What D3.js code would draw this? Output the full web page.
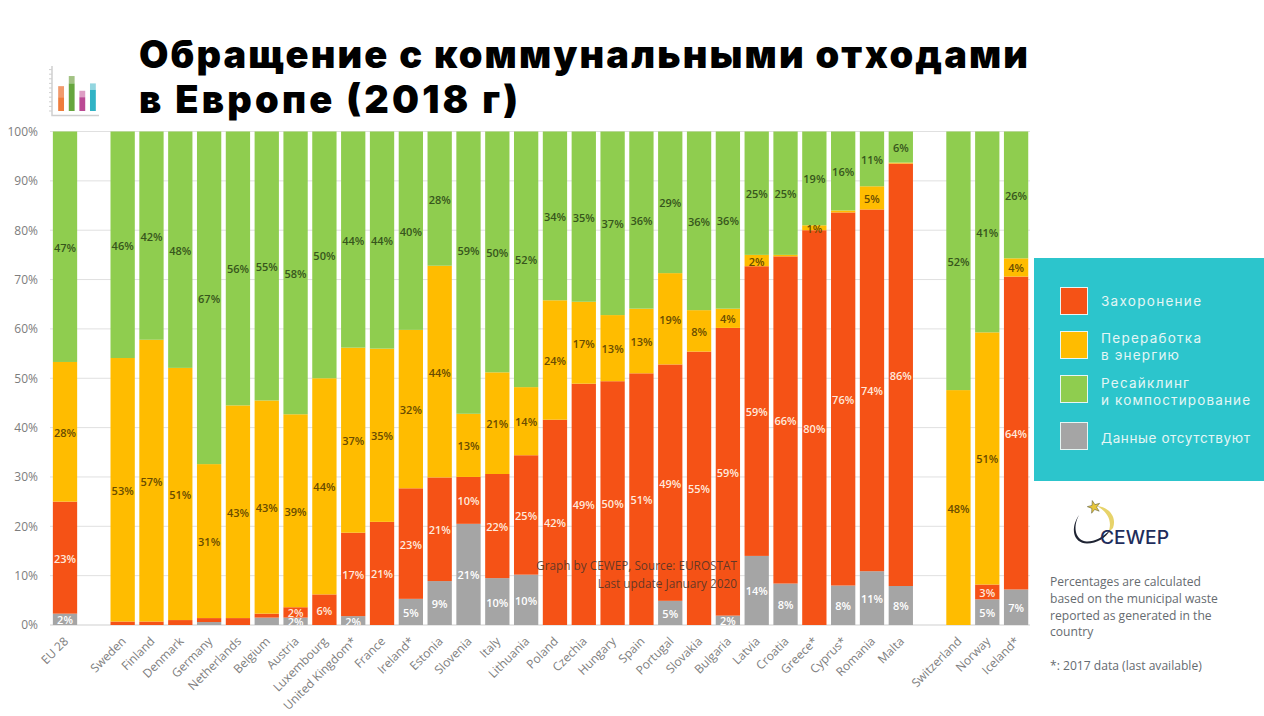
<!DOCTYPE html>
<html lang="ru"><head><meta charset="utf-8">
<script src="https://cdn.jsdelivr.net/npm/d3@7"></script>
<style>
html,body{margin:0;padding:0;background:#fff;overflow:hidden}
svg{display:block}
</style></head><body>
<svg id="c" width="1264" height="716"></svg>
<script>
const countries = ["EU 28"," ","Sweden","Finland","Denmark","Germany","Netherlands","Belgium","Austria","Luxembourg","United Kingdom*","France","Ireland*","Estonia","Slovenia","Italy","Lithuania","Poland","Czechia","Hungary","Spain","Portugal","Slovakia","Bulgaria","Latvia","Croatia","Greece*","Cyprus*","Romania","Malta","  ","Switzerland","Norway","Iceland*"];
const missing = [2.3,0,0,0,0,0.6,0,1.5,1.5,0,1.8,0,5.3,8.9,20.5,9.5,10.2,0,0,0,0,4.9,0,1.9,14,8.4,0,8,10.9,7.9,0,0,5.2,7.2];
const landfill = [22.7,0,0.7,0.7,1,0.8,1.4,0.8,2.1,6.2,16.9,20.9,22.4,21,9.5,21.1,24.2,41.6,48.9,49.4,51,47.9,55.4,58.3,58.7,66.3,80,75.6,73.3,85.6,0,0,3,63.4];
const energy = [28.3,0,53.4,57.1,51.1,31.2,43.1,43.2,39.1,43.8,37.5,35.1,32.1,42.9,12.8,20.6,13.8,24.2,16.6,13.4,13.1,18.5,8.4,3.9,2.3,0.3,1,0.4,4.7,0.2,0,47.6,51.1,3.7];
const recycling = [46.7,0,45.9,42.2,47.9,67.4,55.5,54.5,57.3,50,43.8,44,40.2,27.2,57.2,48.8,51.8,34.2,34.5,37.2,35.9,28.7,36.2,35.9,25,25,19,16,11.1,6.3,0,52.4,40.7,25.7];
const missingLabels = [2,null,null,null,null,null,null,null,2,null,2,null,5,9,21,10,10,null,null,null,null,5,null,2,14,8,null,8,11,8,null,null,5,7];
const landfillLabels = [23,null,null,null,null,null,null,null,2,6,17,21,23,21,10,22,25,42,49,50,51,49,55,59,59,66,80,76,74,86,null,null,3,64];
const energyLabels = [28,null,53,57,51,31,43,43,39,44,37,35,32,44,13,21,14,24,17,13,13,19,8,4,2,null,1,null,5,null,null,48,51,4];
const recyclingLabels = [47,null,46,42,48,67,56,55,58,50,44,44,40,28,59,50,52,34,35,37,36,29,36,36,25,25,19,16,11,6,null,52,41,26];
const yTicks = [0,10,20,30,40,50,60,70,80,90,100];
const seriesNames = ["missing","landfill","energy","recycling"];
const seriesColors = ["#A5A5A5","#F55216","#FFBC00","#8FCD4F"];
const labelColors = ["#ffffff","#ffe9dc","#6a4c00","#37561c"];
const titleLines = ["Обращение с коммунальными отходами","в Европе (2018 г)"];
const legendItems = [["Захоронение"],["Переработка","в энергию"],["Ресайклинг","и компостирование"],["Данные отсутствуют"]];
const legendOrder = [1,2,3,0];
const noteLines = ["Percentages are calculated","based on the municipal waste","reported as generated in the","country","","*: 2017 data (last available)"];
const sourceLines = ["Graph by CEWEP, Source: EUROSTAT","Last update January 2020"];
const iconBars = [{k:"a",top:27,mid:15,l:"#F19A6C",d:"#EE7C3C"},{k:"b",top:38,mid:30,l:"#A2C283",d:"#66A63E"},{k:"c",top:22,mid:15,l:"#DE9DC4",d:"#BB4A94"},{k:"d",top:30,mid:23,l:"#93D6E0",d:"#30B3C5"}];

const svg = d3.select("#c");
const bodyFont = "'Open Sans',sans-serif";

const x = d3.scaleBand().domain(countries).range([50.6,1030.5]).paddingInner(0.157).paddingOuter(0.0785);
const y = d3.scaleLinear().domain([0,100]).range([625,131.5]);

// grid
svg.append("g").selectAll("line").data(yTicks).join("line")
  .attr("x1",50).attr("x2",1030)
  .attr("y1",d=>y(d)).attr("y2",d=>y(d))
  .attr("stroke",d=>d===0?"#cfcfcf":"#e0e0e0").attr("stroke-width",1);

// y axis
const yAxis = d3.axisLeft(y).tickValues(yTicks).tickSize(0).tickPadding(0).tickFormat(d=>d+"%");
const gy = svg.append("g").attr("transform","translate(38,0)").call(yAxis);
gy.select(".domain").remove();
gy.selectAll("text").attr("font-family",bodyFont).attr("font-size",12).attr("fill","#7d7d7d");

// stacked bars
const rows = countries.map((c,i)=>({c,missing:missing[i],landfill:landfill[i],energy:energy[i],recycling:recycling[i],i}));
const stacked = d3.stack().keys(seriesNames)(rows);
const labelSets = [missingLabels,landfillLabels,energyLabels,recyclingLabels];
svg.append("g").selectAll("g").data(stacked).join("g").attr("fill",(d,i)=>seriesColors[i])
  .selectAll("rect").data(d=>d.filter(p=>p[1]>p[0])).join("rect")
  .attr("x",d=>x(d.data.c)).attr("width",x.bandwidth())
  .attr("y",d=>y(d[1])).attr("height",d=>y(d[0])-y(d[1]));

// value labels, clipped at the baseline
svg.append("clipPath").attr("id","plot").append("rect")
  .attr("x",x.range()[0]).attr("width",x.range()[1]-x.range()[0])
  .attr("y",y(100)).attr("height",y(0)-y(100));
const lab = svg.append("g").attr("clip-path","url(#plot)");
stacked.forEach((s,si)=>{
  lab.append("g").selectAll("text").data(s.filter(p=>labelSets[si][p.data.i]!=null)).join("text")
    .attr("x",d=>x(d.data.c)+x.bandwidth()/2)
    .attr("y",d=>{
      const pct = (d.data.c==="Slovenia"&&si===3)?76:(d[0]+d[1])/2;
      return y(pct)+1;
    })
    .attr("dy","0.36em").attr("text-anchor","middle")
    .attr("font-family",bodyFont).attr("font-size",11).attr("font-weight",600)
    .attr("fill",labelColors[si])
    .text(d=>labelSets[si][d.data.i]+"%");
});

// x axis labels
svg.append("g").selectAll("text").data(countries.filter(c=>c.trim())).join("text")
  .attr("transform",c=>`translate(${x(c)+x.bandwidth()/2+1},639) rotate(-45)`)
  .attr("text-anchor","end").attr("dy","0.36em")
  .attr("font-family",bodyFont).attr("font-size",12).attr("fill","#7d7d7d")
  .text(c=>c);

// source note
svg.append("g").selectAll("text").data(sourceLines).join("text")
  .attr("x",737).attr("y",(d,i)=>570+i*17.5).attr("text-anchor","end")
  .attr("font-family",bodyFont).attr("font-size",11.8).attr("fill","#4a3328").attr("fill-opacity",0.85)
  .text(d=>d);

// title
const titleWidths = [889,379];
svg.append("g").selectAll("text").data(titleLines).join("text")
  .attr("x",139).attr("y",(d,i)=>68+i*45)
  .attr("font-family","Inter,sans-serif").attr("font-weight",900).attr("font-size",38)
  .attr("textLength",(d,i)=>titleWidths[i]).attr("lengthAdjust","spacing")
  .attr("fill","#000").text(d=>d);

// icon
const icon = svg.append("g");
const ix = d3.scaleBand().domain(iconBars.map(d=>d.k)).range([55,99]).paddingInner(0.45).paddingOuter(0.3);
const iy = d3.scaleLinear().domain([0,50]).range([111,65]);
icon.append("path").attr("d","M52,66V115.5H99").attr("fill","none").attr("stroke","#cfcfcf").attr("stroke-width",1.5);
icon.append("g").selectAll("line").data(d3.range(0,50,5)).join("line")
  .attr("x1",49).attr("x2",52).attr("y1",d=>iy(d)).attr("y2",d=>iy(d)).attr("stroke","#cfcfcf");
icon.selectAll(".t").data(iconBars).join("rect").attr("x",d=>ix(d.k)).attr("width",ix.bandwidth())
  .attr("y",d=>iy(d.top)).attr("height",d=>iy(d.mid)-iy(d.top)).attr("fill",d=>d.l);
icon.selectAll(".m").data(iconBars).join("rect").attr("x",d=>ix(d.k)).attr("width",ix.bandwidth())
  .attr("y",d=>iy(d.mid)).attr("height",d=>iy(0)-iy(d.mid)).attr("fill",d=>d.d);

// legend
svg.append("rect").attr("x",1034).attr("y",258).attr("width",230).attr("height",223).attr("fill","#2CC5CC");
const legendTops = [287.5,331.5,375.5,422.5];
const legendText = [[305.5],[343,360],[388,405],[443]];
const legendWidths = [[100],[100,78],[88,149],[149]];
const lg = svg.append("g");
legendItems.forEach((lines,i)=>{
  lg.append("rect").attr("x",1060.5).attr("y",legendTops[i]).attr("width",27).attr("height",27)
    .attr("fill",seriesColors[legendOrder[i]]).attr("stroke","#e6f6f4").attr("stroke-width",1);
  lg.append("g").selectAll("text").data(lines).join("text")
    .attr("x",1101).attr("y",(d,j)=>legendText[i][j])
    .attr("font-family","Inter,sans-serif").attr("font-size",13.5)
    .attr("textLength",(d,j)=>legendWidths[i][j]).attr("lengthAdjust","spacing")
    .attr("fill","#e4f6f5").text(d=>d);
});

// CEWEP logo
const logo = svg.append("g");
logo.append("path").attr("d","M1097,506C1109,507 1117,517 1113,528L1108,533C1113,522 1108,512 1097,506Z").attr("fill","#E7D36A");
logo.append("path").attr("d","M1079,515C1070,528 1073,543 1087,543.5C1097,543.5 1106,538 1110,530C1103,537 1095,541.5 1087,541.5C1076,541 1072,528 1079,515Z").attr("fill","#1f2433");
logo.append("path").attr("d",d3.symbol().type(d3.symbolStar).size(50)()).attr("transform","translate(1094,507) rotate(-15)").attr("fill","#E7C63A").attr("stroke","#5a5a3a").attr("stroke-width",0.5);
logo.append("text").attr("x",1100).attr("y",543.5).attr("font-family","Inter,sans-serif").attr("font-weight",500)
  .attr("font-size",18).attr("textLength",69).attr("lengthAdjust","spacingAndGlyphs").attr("fill","#1F2D5C").text("CEWEP");

// notes
svg.append("g").selectAll("text").data(noteLines).join("text")
  .attr("x",1050).attr("y",(d,i)=>586+i*16.8)
  .attr("font-family",bodyFont).attr("font-size",12.1).attr("fill","#666b70").text(d=>d);
</script>
</body></html>
